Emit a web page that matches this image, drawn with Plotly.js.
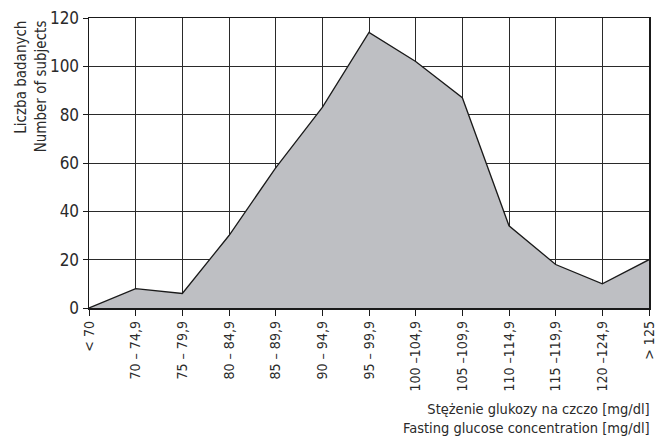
<!DOCTYPE html>
<html>
<head>
<meta charset="utf-8">
<script src="https://cdn.plot.ly/plotly-3.0.1.min.js"></script>
<style>html,body{margin:0;padding:0;background:#fff;}#chart{width:658px;height:443px;}</style>
</head>
<body>
<div id="chart"></div>
<script>
const categories = ["< 70", "70 – 74,9", "75 – 79,9", "80 – 84,9", "85 – 89,9", "90 – 94,9", "95 – 99,9",
  "100 –104,9", "105 –109,9", "110 –114,9", "115 –119,9", "120 –124,9", "> 125"];
const subjects = [0, 8, 6, 30, 58, 83, 114, 102, 87, 34, 18, 10, 20];
const yTicks = [0, 20, 40, 60, 80, 100, 120];
const yTitle = "Liczba badanych<br>Number of subjects";
const xTitle = "Stężenie glukozy na czczo [mg/dl]<br>Fasting glucose concentration [mg/dl]";

const FONT = '"DejaVu Sans Condensed", "Liberation Sans Narrow", "Roboto", sans-serif';

const trace = {
  x: categories,
  y: subjects,
  type: 'scatter',
  mode: 'lines',
  fill: 'tozeroy',
  fillcolor: '#bebfc3',
  line: {color: '#1a1a1a', width: 1.3},
  hoverinfo: 'none'
};

const layout = {
  width: 658, height: 443,
  margin: {l: 89, r: 9, t: 18, b: 135},
  paper_bgcolor: '#fff', plot_bgcolor: '#fff',
  showlegend: false,
  font: {family: FONT, color: '#2a2a2a', size: 15},
  xaxis: {
    type: 'category',
    range: [0, categories.length - 1],
    tickangle: -90,
    showgrid: true, gridcolor: '#2a2a2a', gridwidth: 1,
    showline: true, linecolor: '#1a1a1a', linewidth: 1.5, mirror: true,
    ticks: 'outside', ticklen: 6, tickcolor: '#1a1a1a', tickwidth: 1,
    tickfont: {family: FONT, size: 14, color: '#2a2a2a'},
    zeroline: false, fixedrange: true
  },
  yaxis: {
    range: [0, 120],
    tickvals: yTicks,
    showgrid: true, gridcolor: '#2a2a2a', gridwidth: 1,
    showline: true, linecolor: '#1a1a1a', linewidth: 1.5, mirror: true,
    ticks: 'outside', ticklen: 5, tickcolor: '#1a1a1a', tickwidth: 1,
    tickfont: {family: FONT, size: 17, color: '#2a2a2a'},
    zeroline: false, fixedrange: true
  },
  annotations: [
    {
      text: yTitle, textangle: -90, showarrow: false,
      xref: 'paper', yref: 'paper', x: -0.103, y: 1.0,
      xanchor: 'center', yanchor: 'top', align: 'right',
      font: {family: FONT, size: 15, color: '#2a2a2a'}
    },
    {
      text: xTitle, showarrow: false,
      xref: 'paper', yref: 'paper', x: 1.005, y: -0.315,
      xanchor: 'right', yanchor: 'top', align: 'right',
      font: {family: FONT, size: 14.5, color: '#2a2a2a'}
    }
  ]
};

Plotly.newPlot('chart', [trace], layout, {displayModeBar: false, staticPlot: true});
</script>
</body>
</html>
